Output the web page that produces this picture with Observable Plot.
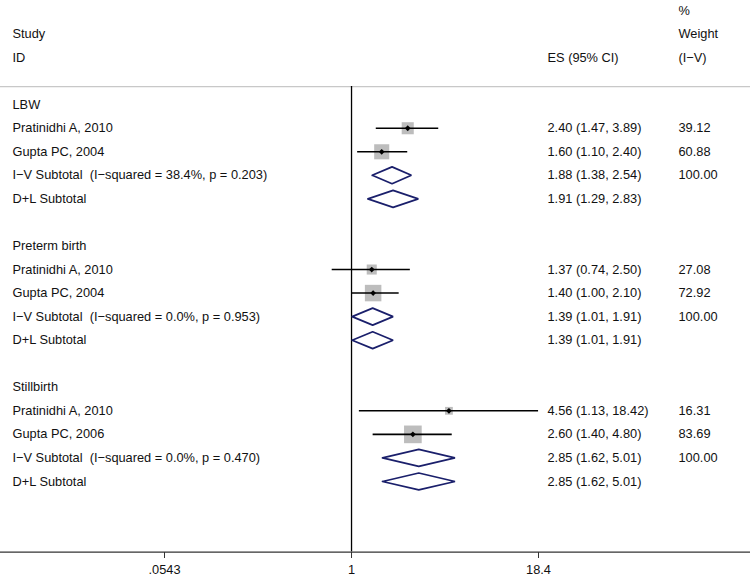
<!DOCTYPE html>
<html>
<head>
<meta charset="utf-8">
<script src="https://cdn.jsdelivr.net/npm/d3@7"></script>
<script src="https://cdn.jsdelivr.net/npm/@observablehq/plot@0.6"></script>
<style>
  html, body { margin: 0; padding: 0; background: #fff; }
  svg { display: block; }
</style>
</head>
<body>
<div id="chart"></div>
<script>
// ---- data ----
const groups = ["LBW", "Preterm birth", "Stillbirth"];
const studyNames = [
  ["Pratinidhi A, 2010", "Gupta PC, 2004"],
  ["Pratinidhi A, 2010", "Gupta PC, 2004"],
  ["Pratinidhi A, 2010", "Gupta PC, 2006"]
];
const studyES = [[2.40, 1.60], [1.37, 1.40], [4.56, 2.60]];
const studyLo = [[1.47, 1.10], [0.74, 1.00], [1.13, 1.40]];
const studyHi = [[3.89, 2.40], [2.50, 2.10], [18.42, 4.80]];
const studyWeight = [[39.12, 60.88], [27.08, 72.92], [16.31, 83.69]];
const ivES = [1.88, 1.39, 2.85];
const ivLo = [1.38, 1.01, 1.62];
const ivHi = [2.54, 1.91, 5.01];
const ivI2 = ["38.4%", "0.0%", "0.0%"];
const ivP = ["0.203", "0.953", "0.470"];
const dlES = [1.91, 1.39, 2.85];
const dlLo = [1.29, 1.01, 1.62];
const dlHi = [2.83, 1.91, 5.01];
const xTicks = [0.0543, 1, 18.4];
const xTickLabels = [".0543", "1", "18.4"];

// ---- build tables ----
const fmt = (e, l, h) => `${e.toFixed(2)} (${l.toFixed(2)}, ${h.toFixed(2)})`;
const NB = "\u00a0";
const labels = [];   // left column text
const esText = [];   // ES column
const wText = [];    // weight column
const studies = [];
const diamonds = [];
let row = 4;
groups.forEach((g, gi) => {
  labels.push({row, text: g});
  row++;
  studyNames[gi].forEach((name, si) => {
    const d = {row, name, es: studyES[gi][si], lo: studyLo[gi][si], hi: studyHi[gi][si], w: studyWeight[gi][si]};
    studies.push(d);
    labels.push({row, text: name});
    esText.push({row, text: fmt(d.es, d.lo, d.hi)});
    wText.push({row, text: d.w.toFixed(2)});
    row++;
  });
  diamonds.push({row, es: ivES[gi], lo: ivLo[gi], hi: ivHi[gi], id: "iv" + gi});
  labels.push({row, text: `I\u2212V Subtotal${NB}${NB}(I\u2212squared = ${ivI2[gi]}, p = ${ivP[gi]})`});
  esText.push({row, text: fmt(ivES[gi], ivLo[gi], ivHi[gi])});
  wText.push({row, text: "100.00"});
  row++;
  diamonds.push({row, es: dlES[gi], lo: dlLo[gi], hi: dlHi[gi], id: "dl" + gi});
  labels.push({row, text: "D+L Subtotal"});
  esText.push({row, text: fmt(dlES[gi], dlLo[gi], dlHi[gi])});
  row++;
  row++; // blank
});
const headerLeft = [{row: 1, text: "Study"}, {row: 2, text: "ID"}];
const headerES = [{row: 2, text: "ES (95% CI)"}];
const headerW = [{row: 0, text: "%"}, {row: 1, text: "Weight"}, {row: 2, text: "(I\u2212V)"}];

const H = 0.36; // diamond half-height in row units
const diamondPts = diamonds.flatMap(d => [
  {id: d.id, x: d.lo, y: d.row},
  {id: d.id, x: d.es, y: d.row - H},
  {id: d.id, x: d.hi, y: d.row},
  {id: d.id, x: d.es, y: d.row + H},
  {id: d.id, x: d.lo, y: d.row}
]);

const tickLabel = (d) => {
  let best = 0;
  xTicks.forEach((t, i) => {
    if (Math.abs(Math.log(t) - Math.log(d)) < Math.abs(Math.log(xTicks[best]) - Math.log(d))) best = i;
  });
  return xTickLabels[best];
};

const font = "'Liberation Sans', Helvetica, Arial, sans-serif";
const fs = 12.8;
const txt = (data, dx) => Plot.text(data, {
  y: "row", text: "text", frameAnchor: "left", dx, textAnchor: "start",
  fontSize: fs, fill: "#111"
});

const chart = Plot.plot({
  width: 750,
  height: 578,
  marginLeft: 0,
  marginRight: 0,
  marginTop: 0,
  marginBottom: 26,
  style: {fontFamily: font, fontSize: fs + "px", background: "#fff", overflow: "visible"},
  x: {type: "log", domain: [0.0543, 18.4], range: [164, 538]},
  y: {type: "linear", domain: [0, 23], range: [10, 551.6], axis: null},
  r: {type: "sqrt", domain: [0, 100], range: [0, 10.9]},
  marks: [
    Plot.ruleY([3.23], {stroke: "#c8c8c8", strokeWidth: 1.2}),
    Plot.ruleX([1], {y1: 3.23, y2: 23, stroke: "#000", strokeWidth: 1.3}),
    Plot.dot(studies, {x: "es", y: "row", r: "w", symbol: "square", fill: "#bdbdbd", stroke: null}),
    Plot.ruleY(studies, {y: "row", x1: "lo", x2: "hi", stroke: "#000", strokeWidth: 1.6}),
    Plot.dot(studies, {x: "es", y: "row", r: 2.6, symbol: "diamond2", fill: "#000", stroke: null}),
    Plot.line(diamondPts, {x: "x", y: "y", z: "id", stroke: "#1a1f6b", strokeWidth: 1.7, curve: "linear", strokeLinejoin: "miter"}),
    Plot.ruleY([23], {stroke: "#333", strokeWidth: 1.3}),
    Plot.axisX({ticks: xTicks, tickSize: 6, stroke: "#333", text: null, label: null}),
    Plot.text(xTicks, {x: d => d, y: 23, text: tickLabel, dy: 18, fontSize: fs, fill: "#111", textAnchor: "middle"}),
    txt(headerLeft, 12),
    txt(labels, 12),
    txt(headerES, 547),
    txt(esText, 547),
    txt(headerW, 678),
    txt(wText, 678)
  ]
});
document.getElementById("chart").appendChild(chart);
</script>
</body>
</html>
